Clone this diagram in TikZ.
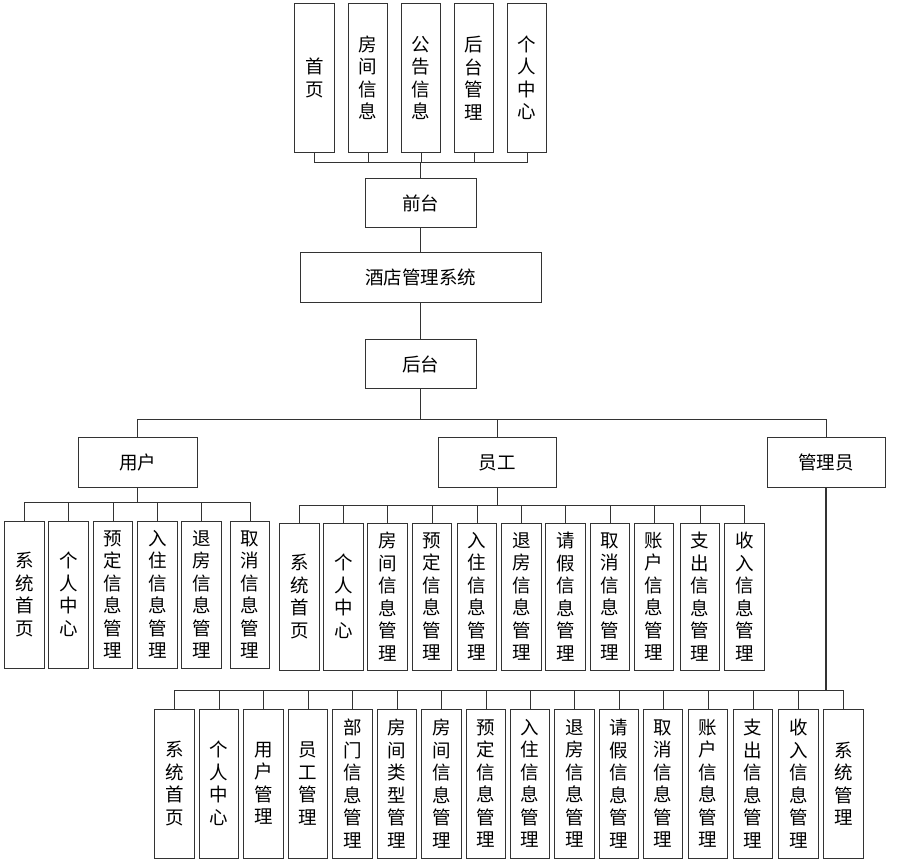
\documentclass[tikz,border=0pt]{standalone}
\usepackage{fontspec}
\newfontfamily\cjk{Noto Sans CJK SC}
\begin{document}
\begin{tikzpicture}[x=1pt,y=-1pt,
  box/.style={draw=black!80, line width=1pt, inner sep=0pt, font=\cjk\fontsize{18.5}{22.5}\selectfont, align=center},
  vb/.style={box, minimum width=39.5, minimum height=148},
  hb/.style={box, minimum height=49.5},
  conn/.style={draw=black!80, line width=1pt}]
\useasboundingbox (0,0) rectangle (912,864);
% top row
\node[vb] (t1) at (314.5,78) {首\\页};
\node[vb] (t2) at (368,78) {房\\间\\信\\息};
\node[vb] (t3) at (421,78) {公\\告\\信\\息};
\node[vb] (t4) at (474,78) {后\\台\\管\\理};
\node[vb] (t5) at (527,78) {个\\人\\中\\心};
\node[hb, minimum width=111] (front) at (420.5,203) {前台};
\node[hb, minimum width=241] (sys) at (420.5,277.5) {酒店管理系统};
\node[hb, minimum width=111] (back) at (420.5,364) {后台};
\node[hb, minimum width=119] (user) at (137.5,462.5) {用户};
\node[hb, minimum width=118] (staff) at (497,462.5) {员工};
\node[hb, minimum width=118] (admin) at (826,462.5) {管理员};
\coordinate (b0) at (0,162);
\coordinate (b1) at (0,419);
\coordinate (b2) at (0,502);
\coordinate (b3) at (0,505);
\coordinate (b4) at (0,690);
\draw[conn] (front.north) -- (front.north |- b0);
\foreach \c in {t1,t2,t3,t4,t5} \draw[conn] (\c.south) -- (\c.south |- b0) -- (front.north |- b0);
\draw[conn] (front.south) -- (sys.north);
\draw[conn] (sys.south) -- (back.north);
\draw[conn] (back.south) -- (back.south |- b1);
\foreach \c in {user,staff,admin} \draw[conn] (\c.north) -- (\c.north |- b1) -- (back.south |- b1);
% user children
\begin{scope}[every node/.style={vb, minimum height=147}]
\node (u1) at (24.5,594.5) {系\\统\\首\\页};
\node (u2) at (68.5,594.5) {个\\人\\中\\心};
\node (u3) at (113,594.5) {预\\定\\信\\息\\管\\理};
\node (u4) at (157.5,594.5) {入\\住\\信\\息\\管\\理};
\node (u5) at (201.5,594.5) {退\\房\\信\\息\\管\\理};
\node (u6) at (250,594.5) {取\\消\\信\\息\\管\\理};
\end{scope}
\draw[conn] (user.south) -- (user.south |- b2);
\foreach \c in {u1,u2,u3,u4,u5,u6} \draw[conn] (\c.north) -- (\c.north |- b2) -- (user.south |- b2);
% staff children
\begin{scope}[every node/.style={vb, minimum height=147}]
\node (s1) at (299.5,596.5) {系\\统\\首\\页};
\node (s2) at (343.5,596.5) {个\\人\\中\\心};
\node (s3) at (387.5,596.5) {房\\间\\信\\息\\管\\理};
\node (s4) at (432,596.5) {预\\定\\信\\息\\管\\理};
\node (s5) at (477,596.5) {入\\住\\信\\息\\管\\理};
\node (s6) at (521.5,596.5) {退\\房\\信\\息\\管\\理};
\node (s7) at (565.5,596.5) {请\\假\\信\\息\\管\\理};
\node (s8) at (610,596.5) {取\\消\\信\\息\\管\\理};
\node (s9) at (654,596.5) {账\\户\\信\\息\\管\\理};
\node (s10) at (700,596.5) {支\\出\\信\\息\\管\\理};
\node (s11) at (744.5,596.5) {收\\入\\信\\息\\管\\理};
\end{scope}
\draw[conn] (staff.south) -- (staff.south |- b3);
\foreach \c in {s1,s2,s3,s4,s5,s6,s7,s8,s9,s10,s11} \draw[conn] (\c.north) -- (\c.north |- b3) -- (staff.south |- b3);
% admin children
\begin{scope}[every node/.style={vb, minimum height=149}]
\node (a1) at (174.5,783.5) {系\\统\\首\\页};
\node (a2) at (219,783.5) {个\\人\\中\\心};
\node (a3) at (263.5,783.5) {用\\户\\管\\理};
\node (a4) at (308,783.5) {员\\工\\管\\理};
\node (a5) at (352.5,783.5) {部\\门\\信\\息\\管\\理};
\node (a6) at (397,783.5) {房\\间\\类\\型\\管\\理};
\node (a7) at (441.5,783.5) {房\\间\\信\\息\\管\\理};
\node (a8) at (486,783.5) {预\\定\\信\\息\\管\\理};
\node (a9) at (530,783.5) {入\\住\\信\\息\\管\\理};
\node (a10) at (574.5,783.5) {退\\房\\信\\息\\管\\理};
\node (a11) at (619,783.5) {请\\假\\信\\息\\管\\理};
\node (a12) at (663,783.5) {取\\消\\信\\息\\管\\理};
\node (a13) at (708,783.5) {账\\户\\信\\息\\管\\理};
\node (a14) at (753,783.5) {支\\出\\信\\息\\管\\理};
\node (a15) at (798.5,783.5) {收\\入\\信\\息\\管\\理};
\node (a16) at (843.5,783.5) {系\\统\\管\\理};
\end{scope}
\draw[conn, line width=1.6pt] (admin.south) -- (admin.south |- b4);
\foreach \c in {a1,a2,a3,a4,a5,a6,a7,a8,a9,a10,a11,a12,a13,a14,a15,a16} \draw[conn] (\c.north) -- (\c.north |- b4) -- (admin.south |- b4);
\end{tikzpicture}
\end{document}
